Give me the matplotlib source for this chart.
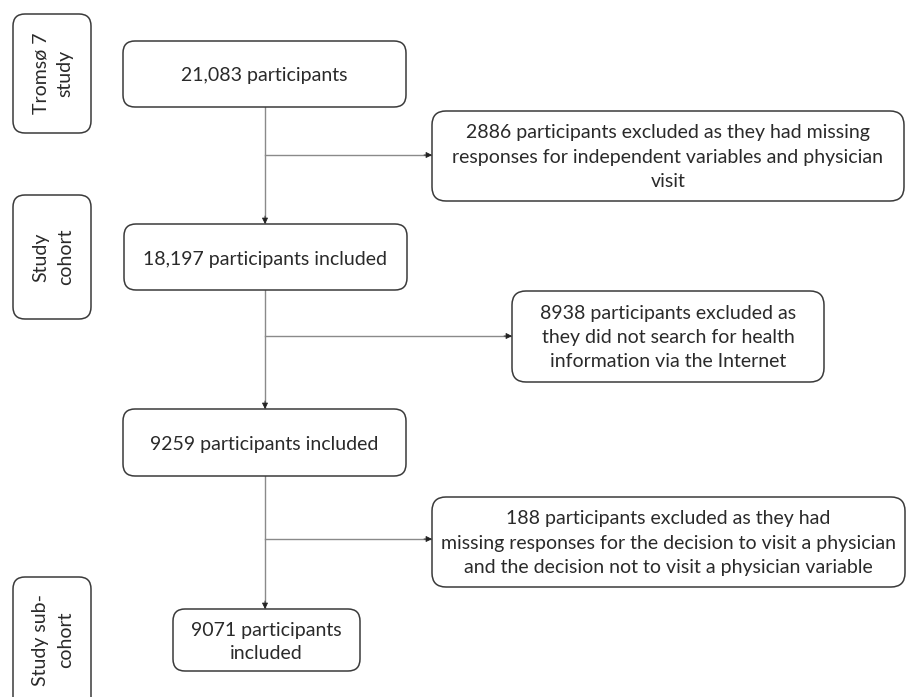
import matplotlib.pyplot as plt
from matplotlib.patches import FancyBboxPatch

plt.rcParams['font.family'] = ['Lato', 'DejaVu Sans']

# text of the flowchart
stage_labels = ['Tromsø 7\nstudy', 'Study\ncohort', 'Study sub-\ncohort']
main_labels = ['21,083 participants',
               '18,197 participants included',
               '9259 participants included',
               '9071 participants\nincluded']
excl_labels = ['2886 participants excluded as they had missing\n'
               'responses for independent variables and physician\nvisit',
               '8938 participants excluded as\nthey did not search for health\n'
               'information via the Internet',
               '188 participants excluded as they had\n'
               'missing responses for the decision to visit a physician\n'
               'and the decision not to visit a physician variable']

# layout in pixels (x0, y0, x1, y1)
stage_boxes = [(13, 14, 91, 133), (13, 195, 91, 319), (13, 577, 91, 712)]
main_boxes = [(123, 41, 406, 107), (124, 224, 407, 290),
              (123, 409, 406, 476), (173, 609, 360, 671)]
excl_boxes = [(432, 111, 904, 201), (512, 291, 824, 382), (432, 497, 905, 587)]
branch_y = [155, 336, 539]
cx = 265

fig = plt.figure(figsize=(9.12, 6.97), dpi=100)
ax = fig.add_axes([0, 0, 1, 1])
ax.set_xlim(0, 912)
ax.set_ylim(697, 0)
ax.axis('off')

edge = '#3a3a3a'
line = '#8a8a8a'
txt = '#2a2a2a'
fs = 14
ls = 1.52


def box(b, r=12):
    x0, y0, x1, y1 = b
    ax.add_patch(FancyBboxPatch((x0, y0), x1 - x0, y1 - y0,
                                boxstyle='round,pad=0,rounding_size=%d' % r,
                                fc='white', ec=edge, lw=1.1, zorder=2))


for b, t in zip(stage_boxes, stage_labels):
    box(b, 12)
    yc = (b[1] + b[3]) / 2 if b[3] < 697 else 640
    ax.text((b[0] + b[2]) / 2 + 1, yc, t, rotation=90, ha='center', va='center',
            fontsize=fs, color=txt, linespacing=ls, zorder=3)

for b, t in zip(main_boxes, main_labels):
    box(b, 12)
    ax.text((b[0] + b[2]) / 2, (b[1] + b[3]) / 2 + 2, t, ha='center', va='center',
            fontsize=fs, color=txt, linespacing=1.45, zorder=3)

for b, t in zip(excl_boxes, excl_labels):
    box(b, 14)
    ax.text((b[0] + b[2]) / 2, (b[1] + b[3]) / 2 + 1, t, ha='center', va='center',
            fontsize=fs, color=txt, linespacing=ls, zorder=3)


def arrow(x0, y0, x1, y1):
    ax.plot([x0, x1], [y0, y1], color=line, lw=1.0, zorder=1)
    dx = 0 if x0 == x1 else -8
    dy = -8 if x0 == x1 else 0
    ax.annotate('', xy=(x1, y1), xytext=(x1 + dx, y1 + dy),
                arrowprops=dict(arrowstyle='-|>', color='#222', lw=0.6,
                                mutation_scale=9, shrinkA=0, shrinkB=0),
                zorder=1)


for i in range(3):
    arrow(cx, main_boxes[i][3], cx, main_boxes[i + 1][1])
    arrow(cx, branch_y[i], excl_boxes[i][0], branch_y[i])

fig.savefig('out.png', dpi=100)
